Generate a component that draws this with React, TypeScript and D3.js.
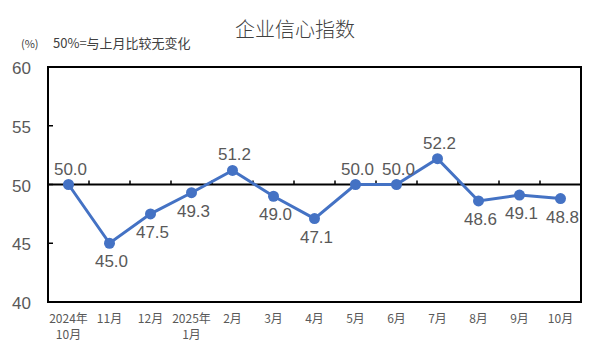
import React from "react";
import * as d3 from "d3";

const categories = [
  ["2024年", "10月"],
  ["11月"],
  ["12月"],
  ["2025年", "1月"],
  ["2月"],
  ["3月"],
  ["4月"],
  ["5月"],
  ["6月"],
  ["7月"],
  ["8月"],
  ["9月"],
  ["10月"]
];
const values = [50.0, 45.0, 47.5, 49.3, 51.2, 49.0, 47.1, 50.0, 50.0, 52.2, 48.6, 49.1, 48.8];
const labelAbove = [true, false, false, false, true, false, false, true, true, true, false, false, false];
const yTicks = [40, 45, 50, 55, 60];

const W = 591;
const H = 354;
const plot = { left: 48, right: 581, top: 67, bottom: 302 };
const font = "'Noto Sans CJK SC', 'Liberation Sans', sans-serif";
const grey = "#595959";

const App = () => {
  const x = d3
    .scaleBand<number>()
    .domain(values.map((_, i) => i))
    .range([plot.left, plot.right]);
  const y = d3.scaleLinear().domain([40, 60]).range([plot.bottom, plot.top]);
  const cx = (i: number) => (x(i) as number) + x.bandwidth() / 2;
  const line = d3
    .line<number>()
    .x((_, i) => cx(i))
    .y(d => y(d));
  const y50 = y(50);

  return (
    <svg
      width={W}
      height={H}
      style={{ position: "absolute", left: 0, top: 0, background: "#fff" }}
    >
      <text x={295} y={37} textAnchor="middle" fontFamily={font} fontSize={20} fontWeight={300} fill="#404040">
        企业信心指数
      </text>
      <text x={21} y={48} fontFamily={font} fontSize={11} fill="#404040">
        (%)
      </text>
      <text x={53} y={48} fontFamily={font} fontSize={13} fill="#404040">
        50%=与上月比较无变化
      </text>

      {yTicks.map(t => (
        <g key={t}>
          <text
            x={31}
            y={y(t) + 7}
            textAnchor="end"
            fontFamily="'Liberation Sans', sans-serif"
            fontSize={17}
            fill={grey}
          >
            {t}
          </text>
          <line x1={plot.left} x2={plot.left + 5} y1={y(t)} y2={y(t)} stroke="#000" strokeWidth={1.5} />
        </g>
      ))}

      <rect
        x={plot.left}
        y={plot.top}
        width={plot.right - plot.left}
        height={plot.bottom - plot.top}
        fill="none"
        stroke="#000"
        strokeWidth={2}
      />
      <line x1={plot.left} x2={plot.right} y1={y50} y2={y50} stroke="#000" strokeWidth={2} />
      {values.slice(1).map((_, i) => {
        const bx = x(i + 1) as number;
        return <line key={i} x1={bx} x2={bx} y1={y50} y2={y50 - 4} stroke="#000" strokeWidth={1.5} />;
      })}

      <path d={line(values) || ""} fill="none" stroke="#4472C4" strokeWidth={3} />
      {values.map((v, i) => (
        <circle key={i} cx={cx(i)} cy={y(v)} r={5.5} fill="#4472C4" />
      ))}
      {values.map((v, i) => (
        <text
          key={i}
          x={cx(i) + 2}
          y={labelAbove[i] ? y(v) - 10 : y(v) + 24}
          textAnchor="middle"
          fontFamily="'Liberation Sans', sans-serif"
          fontSize={17}
          fill={grey}
        >
          {v.toFixed(1)}
        </text>
      ))}

      {categories.map((c, i) => (
        <text key={i} textAnchor="middle" fontFamily={font} fontSize={12} fill={grey}>
          {c.map((s, j) => (
            <tspan key={j} x={cx(i)} y={323 + j * 16}>
              {s}
            </tspan>
          ))}
        </text>
      ))}
    </svg>
  );
};

export default App;
